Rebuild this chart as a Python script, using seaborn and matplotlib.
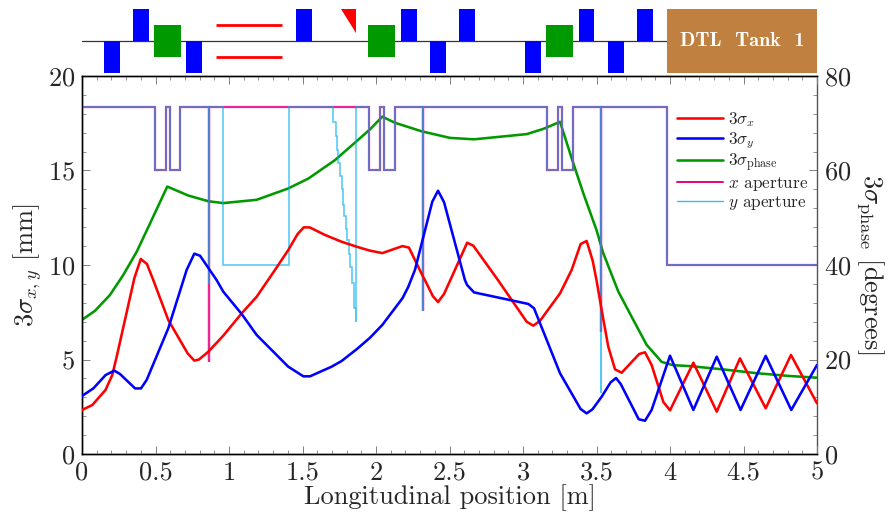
import matplotlib
matplotlib.use("Agg")
import matplotlib.pyplot as plt
from matplotlib.lines import Line2D
from matplotlib.patches import Rectangle, Polygon
import seaborn as sns

sns.set_theme(style="ticks")
plt.rcParams['font.family'] = ['cmr10', 'DejaVu Sans']
plt.rcParams['mathtext.fontset'] = 'cm'
plt.rcParams['axes.unicode_minus'] = False
plt.rcParams['axes.formatter.use_mathtext'] = True

# --- beam sizes (mm) ---
sx_pos = [0, .07, .16, .206, .236, .356, .40, .442, .485, .587, .719, .764, .796, .859, .961, 1.086, 1.188, 1.313,
          1.403, 1.467, 1.508, 1.549, 1.653, 1.766, 1.88, 1.959, 2.043, 2.18, 2.224, 2.32, 2.333, 2.386, 2.422, 2.463,
          2.537, 2.62, 2.662, 2.83, 3.025, 3.07, 3.116, 3.252, 3.331, 3.392, 3.433, 3.474, 3.5, 3.535, 3.58, 3.626,
          3.671, 3.79, 3.83, 3.875, 3.955, 4.0, 4.159, 4.318, 4.476, 4.651, 4.823, 5.0]
sx_val = [2.33, 2.59, 3.39, 4.18, 5.15, 9.3, 10.32, 10.05, 9.2, 7.09, 5.32, 4.94, 5.0, 5.41, 6.26, 7.44, 8.32, 9.74,
          10.79, 11.64, 11.99, 11.99, 11.59, 11.23, 10.94, 10.76, 10.63, 11.0, 10.92, 9.38, 9.2, 8.36, 8.04, 8.47,
          9.74, 11.18, 11.02, 9.2, 7.0, 6.79, 7.05, 8.5, 9.74, 11.11, 11.27, 10.23, 9.2, 7.62, 5.68, 4.48,
          4.3, 5.29, 5.38, 4.71, 2.75, 2.31, 4.83, 2.24, 5.06, 2.42, 5.24, 2.68]

sy_pos = [0, .077, .161, .22, .259, .361, .401, .44, .587, .712, .764, .803, .916, .961, 1.086, 1.188, 1.403, 1.506,
          1.551, 1.698, 1.766, 1.868, 1.959, 2.043, 2.18, 2.22, 2.265, 2.383, 2.422, 2.463, 2.605, 2.62, 2.667, 3.036,
          3.075, 3.252, 3.392, 3.433, 3.472, 3.535, 3.596, 3.633, 3.665, 3.787, 3.83, 3.875, 4.0, 4.159, 4.318, 4.48,
          4.651, 4.825, 5.0]
sy_val = [3.07, 3.47, 4.18, 4.41, 4.23, 3.47, 3.47, 3.92, 6.65, 9.74, 10.6, 10.49, 9.2, 8.59, 7.41, 6.3, 4.62, 4.11,
          4.11, 4.62, 4.92, 5.54, 6.15, 6.83, 8.24, 8.85, 9.74, 13.35, 13.93, 13.32, 9.2, 8.94, 8.55, 7.94,
          7.71, 4.27, 2.38, 2.15, 2.36, 3.03, 3.79, 4.02, 3.7, 1.84, 1.76, 2.33, 5.2, 2.33, 5.15, 2.33,
          5.19, 2.33, 4.71]

# --- phase spread (degrees) ---
sp_pos = [0, .088, .19, .281, .372, .463, .58, .723, .859, .961, 1.188, 1.403, 1.54, 1.721, 1.857, 1.959, 2.043, 2.129,
          2.31, 2.503, 2.667, 3.025, 3.138, 3.252, 3.331, 3.41, 3.5, 3.546, 3.648, 3.75, 3.841, 3.943, 4.02, 4.136, 4.363,
          4.59, 4.816, 5.0]
sp_val = [28.4, 30.3, 33.65, 37.9, 42.8, 48.8, 56.6, 54.7, 53.5, 53.1, 53.8, 56.2, 58.3, 62.2, 65.9, 68.7, 71.4, 70.1,
          68.3, 66.9, 66.6, 67.7, 68.8, 70.3, 62.6, 55.2, 47.4, 42.5, 34.4, 28.4, 23.1, 19.5, 18.8, 18.6, 17.9,
          17.1, 16.5, 16.15]

# --- apertures (mm) ---
ax_pos = [0, .497, .497, .569, .569, .599, .599, .669, .669, .862, .862, .862, 1.952, 1.952, 2.027, 2.027, 2.057, 2.057,
          2.129, 2.129, 2.322, 2.322, 2.322, 3.163, 3.163, 3.238, 3.238, 3.267, 3.267, 3.34, 3.34, 3.531, 3.531, 3.531,
          3.977, 3.977, 5]
ax_val = [18.38, 18.38, 15, 15, 18.38, 18.38, 15, 15, 18.38, 18.38, 4.88, 18.38, 18.38, 15, 15, 18.38, 18.38, 15,
          15, 18.38, 18.38, 7.58, 18.38, 18.38, 15, 15, 18.38, 18.38, 15, 15, 18.38, 18.38, 6.47, 18.38,
          18.38, 10, 10]

ay_pos = [0, .497, .497, .569, .569, .599, .599, .669, .669,
          .862, .862, .862,
          .961, .961, 1.41, 1.41,
          1.710, 1.710, 1.726, 1.726, 1.737, 1.737, 1.744, 1.744, 1.755, 1.755, 1.767, 1.767, 1.778, 1.778, 1.785, 1.785,
          1.796, 1.796, 1.805, 1.805, 1.816, 1.816, 1.825, 1.825, 1.839, 1.839, 1.850, 1.850, 1.862, 1.862, 1.862,
          1.952, 1.952, 1.952, 2.027, 2.027, 2.057, 2.057, 2.129, 2.129,
          2.322, 2.322, 2.322,
          3.163, 3.163, 3.238, 3.238, 3.267, 3.267, 3.34, 3.34,
          3.531, 3.531, 3.531,
          3.977, 3.977, 5]
ay_val = [18.38, 18.38, 15, 15, 18.38, 18.38, 15, 15, 18.38,
          18.38, 9.0, 18.38,
          18.38, 10, 10, 18.38,
          18.38, 17.54, 17.54, 16.8, 16.8, 16.1, 16.1, 15.4, 15.4, 14.7, 14.7, 14.0, 14.0, 13.2, 13.2, 12.6,
          12.6, 11.9, 11.9, 11.3, 11.3, 10.6, 10.6, 9.9, 9.9, 9.03, 9.03, 7.7, 7.7, 7.0, 18.38,
          18.38, 18.38, 15, 15, 18.38, 18.38, 15, 15, 18.38,
          18.38, 7.58, 18.38,
          18.38, 15, 15, 18.38, 18.38, 15, 15, 18.38,
          18.38, 3.21, 18.38,
          18.38, 10, 10]

# --- lattice ---
quad_up = [.347, 1.458, 2.17, 2.567, 3.379, 3.778]
quad_down = [.15, .71, 2.367, 3.016, 3.578]
cavities = [.49, 1.946, 3.157]
drift_x = [.912, 1.36]
tank_start = 3.98
bend_x = [1.762, 1.864]

x_ticks = [0, .5, 1, 1.5, 2, 2.5, 3, 3.5, 4, 4.5, 5]
x_tick_labels = ['0', '0.5', '1', '1.5', '2', '2.5', '3', '3.5', '4', '4.5', '5']

RED, BLUE, GREEN, MAG, CYAN = '#ff0000', '#0000ff', '#009900', '#e6007e', '#00aeef'
W, H = 889, 513
fig = plt.figure(figsize=(W / 100, H / 100), dpi=100)
L, R, T, B = 82, 817, 76, 454
ax2 = fig.add_axes([L / W, 1 - B / H, (R - L) / W, (B - T) / H])
ax = fig.add_axes([L / W, 1 - B / H, (R - L) / W, (B - T) / H], sharex=ax2)
ax.patch.set_visible(False)
ax2.yaxis.tick_right()
ax2.yaxis.set_label_position('right')

LW = 1.85
sns.lineplot(x=sp_pos, y=sp_val, sort=False, estimator=None, ax=ax2, color=GREEN, linewidth=LW, legend=False)
sns.lineplot(x=ax_pos, y=ax_val, sort=False, estimator=None, ax=ax, color=MAG, linewidth=1.6, alpha=0.85, legend=False,
             solid_joinstyle='miter', zorder=2)
sns.lineplot(x=ay_pos, y=ay_val, sort=False, estimator=None, ax=ax, color=CYAN, linewidth=1.15, alpha=0.68, legend=False,
             solid_joinstyle='miter', zorder=2.1)
sns.lineplot(x=sx_pos, y=sx_val, sort=False, estimator=None, ax=ax, color=RED, linewidth=LW, legend=False, zorder=3)
sns.lineplot(x=sy_pos, y=sy_val, sort=False, estimator=None, ax=ax, color=BLUE, linewidth=LW, legend=False, zorder=3.1)

ax.set_xlim(0, 5)
ax.set_ylim(0, 20)
ax2.set_ylim(0, 80)
ax.set_xticks(x_ticks)
ax.set_xticklabels(x_tick_labels)
ax.set_xticks([i / 10 for i in range(51)], minor=True)
ax.set_yticks([0, 5, 10, 15, 20])
ax.set_yticks(range(21), minor=True)
ax2.set_yticks([0, 20, 40, 60, 80])
ax2.set_yticks(range(0, 81, 4), minor=True)
GREY = '#808080'
FS = 19
ax.tick_params(axis='both', which='major', direction='in', length=5.8, width=0.7, color=GREY, labelsize=FS, pad=5)
ax.tick_params(axis='both', which='minor', direction='in', length=2.9, width=0.6, color=GREY)
ax.tick_params(axis='x', which='both', top=True, bottom=True)
ax2.tick_params(axis='y', which='major', direction='in', length=5.8, width=0.7, color=GREY, labelsize=FS, pad=5)
ax2.tick_params(axis='y', which='minor', direction='in', length=2.9, width=0.6, color=GREY)
ax2.tick_params(axis='x', which='both', bottom=False, labelbottom=False)
for a in (ax, ax2):
    for s in a.spines.values():
        s.set_visible(True)
        s.set_color('black')
        s.set_linewidth(1.0)
ax2.spines['right'].set_color('#555555')
ax.spines['right'].set_visible(False)

ax.set_xlabel('Longitudinal position [m]', fontsize=FS, labelpad=0)
ax.set_ylabel(r'$3\sigma_{x,y}$ [mm]', fontsize=FS, labelpad=3)
ax2.set_ylabel(r'$3\sigma_{\mathrm{phase}}$ [degrees]', fontsize=FS, rotation=270, va='bottom', labelpad=3)

handles = [Line2D([], [], color=RED, lw=LW), Line2D([], [], color=BLUE, lw=LW), Line2D([], [], color=GREEN, lw=LW),
           Line2D([], [], color=MAG, lw=1.4), Line2D([], [], color=CYAN, lw=1.0, alpha=0.8)]
labels = [r'$3\sigma_x$', r'$3\sigma_y$', r'$3\sigma_{\mathrm{phase}}$', r'$x$ aperture', r'$y$ aperture']
ax.legend(handles, labels, frameon=False, fontsize=12.4, loc='upper left',
          bbox_to_anchor=((677 - L) / (R - L), (B - 110) / (B - T)), borderpad=0, borderaxespad=0,
          handlelength=2.67, handletextpad=0.3, labelspacing=0.05)

# lattice strip
lat = fig.add_axes([L / W, 1 - 73 / H, (R - L) / W, 64 / H], sharex=None)
lat.set_xlim(0, 5)
lat.set_ylim(-1, 1)
lat.axis('off')
sns.lineplot(x=[0, tank_start], y=[0, 0], sort=False, estimator=None, ax=lat, color='#333333', linewidth=0.9, legend=False)
for q in quad_up:
    lat.add_patch(Rectangle((q, 0), .107, 1, color=BLUE, lw=0, zorder=3))
for q in quad_down:
    lat.add_patch(Rectangle((q, -1), .107, 1, color=BLUE, lw=0, zorder=3))
for c in cavities:
    lat.add_patch(Rectangle((c, -.5), .186, 1, color=GREEN, lw=0, zorder=3))
for y in (.5, -.5):
    lat.plot(drift_x, [y, y], color=RED, lw=2, solid_capstyle='butt')
lat.add_patch(Polygon([(bend_x[0], 1), (bend_x[1], 1), (bend_x[1], .25)], color=RED, lw=0, zorder=3))
lat.add_patch(Rectangle((tank_start, -1), 5 - tank_start, 2, color='#bf8040', lw=0, zorder=3))
lat.text((tank_start + 5) / 2, 0, 'DTL  Tank  1', color='white', ha='center', va='center', family='cmb10', fontsize=14.5, zorder=4)

assert len(ay_pos) == len(ay_val)
fig.savefig('out.png', dpi=100)
